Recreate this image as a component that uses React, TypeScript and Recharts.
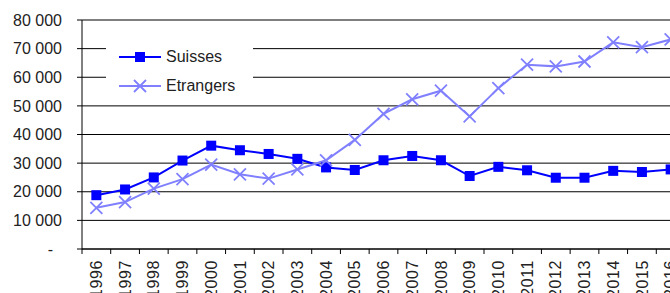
import React from "react";
import { LineChart, Line, XAxis, YAxis, CartesianGrid, Legend } from "recharts";

const years = [
  "1996", "1997", "1998", "1999", "2000", "2001", "2002", "2003", "2004", "2005", "2006",
  "2007", "2008", "2009", "2010", "2011", "2012", "2013", "2014", "2015", "2016",
];
const suisses = [
  18800, 20800, 25000, 30900, 36100, 34500, 33200, 31500, 28500, 27600, 31000,
  32500, 31000, 25500, 28700, 27500, 24900, 24900, 27300, 26900, 27800,
];
const etrangers = [
  14400, 16400, 21100, 24400, 29500, 26100, 24600, 27800, 31000, 38100, 47200,
  52300, 55300, 46300, 56200, 64400, 63800, 65500, 72200, 70500, 73200,
];
const yTicks = [0, 10000, 20000, 30000, 40000, 50000, 60000, 70000, 80000];

const data = years.map((year, i) => ({ year, Suisses: suisses[i], Etrangers: etrangers[i] }));

const W = 700;
const H = 310;
const M = { top: 20, right: 15, bottom: 11, left: 0 };
const Y_W = 82;
const BAND = (W - M.left - M.right - Y_W) / years.length;
const FONT = "'Liberation Sans', Arial, sans-serif";
const BLUE = "#0000FF";
const LIGHT = "#8080FF";

const fmt = (v: number) =>
  v === 0 ? "-\u00a0\u00a0" : String(v).replace(/\B(?=(\d{3})+(?!\d))/g, " ");

const XTick = (props: any) => {
  const { x, y, payload } = props;
  const lx = x - BAND / 2;
  const ty = y + 11;
  return (
    <g>
      <line x1={lx} x2={lx} y1={y} y2={y + 5} stroke="#000" />
      <text
        x={x}
        y={ty}
        transform={`rotate(-90, ${x}, ${ty})`}
        textAnchor="end"
        dy="0.35em"
        fontSize={16}
        letterSpacing={0.6}
        fontFamily={FONT}
        fill="#222"
      >
        {payload.value}
      </text>
    </g>
  );
};

const Square = (props: any) => {
  const { cx, cy } = props;
  if (cx == null || cy == null) return null;
  return <rect x={cx - 5} y={cy - 5} width={10} height={10} fill={BLUE} />;
};

const Cross = (props: any) => {
  const { cx, cy } = props;
  if (cx == null || cy == null) return null;
  return (
    <path
      d={`M${cx - 6},${cy - 6}L${cx + 6},${cy + 6}M${cx - 6},${cy + 6}L${cx + 6},${cy - 6}`}
      stroke={LIGHT}
      strokeWidth={1.8}
      fill="none"
    />
  );
};

const LegendBox = () => {
  const items = [
    { name: "Suisses", color: BLUE, mark: "square" },
    { name: "Etrangers", color: LIGHT, mark: "cross" },
  ];
  return (
    <div style={{ background: "#fff", paddingTop: 1, width: 147, height: 58 }}>
      {items.map((it) => (
        <div key={it.name} style={{ display: "flex", alignItems: "center", height: 29 }}>
          <svg width={60} height={14} style={{ display: "block" }}>
            <line x1={13} x2={55} y1={7} y2={7} stroke={it.color} strokeWidth={2} />
            {it.mark === "square" ? (
              <rect x={29} y={2} width={10} height={10} fill={it.color} />
            ) : (
              <path d="M28,1L40,13M28,13L40,1" stroke={it.color} strokeWidth={1.8} />
            )}
          </svg>
          <span style={{ fontFamily: FONT, fontSize: 16, color: "#222" }}>{it.name}</span>
        </div>
      ))}
    </div>
  );
};

export default function App() {
  return (
    <div style={{ position: "absolute", left: 0, top: 0, width: 670, height: 293, overflow: "hidden", background: "#fff" }}>
      <LineChart width={W} height={H} data={data} margin={M}>
        <CartesianGrid horizontal vertical={false} stroke="#000" />
        <XAxis
          dataKey="year"
          scale="band"
          interval={0}
          tickLine={false}
          tickSize={0}
          tickMargin={0}
          height={50}
          axisLine={{ stroke: "#000" }}
          tick={<XTick />}
        />
        <YAxis
          width={Y_W}
          domain={[0, 80000]}
          ticks={yTicks}
          tickFormatter={fmt}
          tickSize={5}
          tickMargin={15}
          axisLine={{ stroke: "#000" }}
          tickLine={{ stroke: "#000" }}
          tick={{ fontSize: 16, fontFamily: FONT, fill: "#222" }}
        />
        <Legend
          layout="horizontal"
          verticalAlign="middle"
          align="center"
          content={<LegendBox />}
          wrapperStyle={{ left: 106, top: 41, width: 147, height: 58 }}
        />
        <Line
          dataKey="Suisses"
          stroke={BLUE}
          strokeWidth={2}
          dot={<Square />}
          activeDot={false}
          isAnimationActive={false}
        />
        <Line
          dataKey="Etrangers"
          stroke={LIGHT}
          strokeWidth={2}
          dot={<Cross />}
          activeDot={false}
          isAnimationActive={false}
        />
      </LineChart>
    </div>
  );
}
